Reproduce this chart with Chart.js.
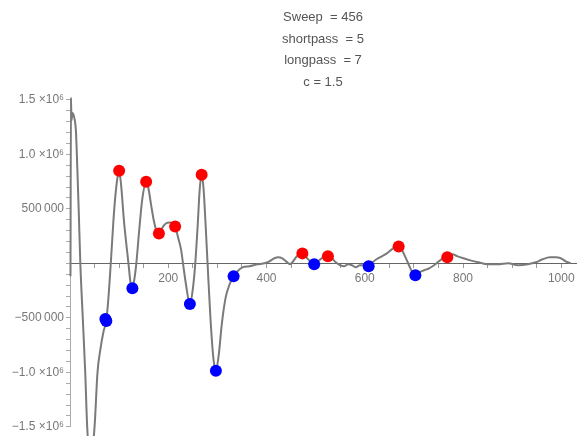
<!DOCTYPE html>
<html lang="en">
  <head>
    <meta charset="UTF-8" />
    <title>Sweep plot</title>
    <script src="https://cdn.jsdelivr.net/npm/chart.js"></script>
    <style>
      body {
        margin: 0;
        background: white;
      }
      #wrap {
        width: 582px;
        height: 436px;
      }
    </style>
  </head>
  <body>
    <div id="wrap"><canvas id="sweepChart"></canvas></div>

    <script>
      // gray trace
      const lineX = [1, 2, 3, 5, 9, 12, 15, 18, 21, 26, 31, 35, 42, 50, 56, 62, 68, 74, 78, 83, 90, 96, 100, 104, 110, 119, 123, 127, 131, 135, 141, 147, 155, 159, 165, 171, 177, 181, 187, 195, 203, 214, 220, 226, 230, 236, 244, 250, 255, 260, 264, 268, 272, 276, 280, 286, 292, 297, 303, 309, 317, 325, 333, 341, 351, 365, 382, 396, 406, 416, 424, 432, 440, 448, 454, 462, 473, 481, 489, 497, 505, 515, 525, 533, 541, 550, 558, 566, 574, 582, 590, 598, 608, 616, 624, 635, 645, 655, 663, 669, 675, 683, 692, 698, 703, 711, 721, 731, 741, 751, 759, 768, 778, 789, 801, 815, 831, 851, 871, 892, 912, 932, 948, 962, 977, 989, 999, 1009, 1019];
      const lineY = [-119000, 1520000, 1310000, 1380000, 1330000, 1220000, 860000, 450000, 0, -500000, -1000000, -1500000, -1850000, -1500000, -1000000, -785000, -630000, -520000, -330000, 0, 493000, 767000, 849000, 720000, 380000, 0, -173000, -228000, -146000, 0, 310000, 584000, 749000, 703000, 539000, 383000, 283000, 265000, 320000, 365000, 374000, 338000, 237000, 128000, 0, -192000, -374000, -237000, 0, 356000, 676000, 813000, 676000, 356000, 0, -511000, -877000, -986000, -831000, -557000, -310000, -192000, -119000, -73000, -37000, -27000, -9000, 0, 18000, 46000, 55000, 46000, 18000, -9000, 18000, 64000, 91000, 55000, 18000, -9000, 18000, 55000, 64000, 46000, 9000, -18000, -27000, -9000, -18000, -37000, -18000, -18000, -27000, 9000, 37000, 64000, 91000, 128000, 155000, 155000, 128000, 55000, -37000, -91000, -110000, -82000, -64000, -46000, -18000, 18000, 46000, 55000, 82000, 64000, 46000, 27000, 9000, -9000, -9000, 0, -18000, -9000, 9000, 37000, 55000, 55000, 46000, 18000, 0];

      // red maxima
      const maxX = [100, 155, 181, 214, 268, 473, 525, 669, 768];
      const maxY = [849000, 749000, 274000, 338000, 813000, 91000, 64000, 155000, 55000];

      // blue minima
      const minX = [72, 74, 127, 244, 297, 333, 497, 608, 703];
      const minY = [-511000, -530000, -228000, -374000, -986000, -119000, -9000, -27000, -110000];

      // tick labels
      const xTickLabels = [200, 400, 600, 800, 1000];
      const yTickValues = [1500000, 1000000, 500000, -500000, -1000000, -1500000];
      const yTickLabels = ["1.5 \u00d710\u2076", "1.0 \u00d710\u2076", "500\u2009000", "\u2212500\u2009000", "\u22121.0 \u00d710\u2076", "\u22121.5 \u00d710\u2076"];

      const titleLines = ["Sweep  = 456", "shortpass  = 5", "longpass  = 7", "c = 1.5"];

      function pairs(xs, ys) {
        return xs.map((x, i) => ({ x: x, y: ys[i] }));
      }

      function yLabel(v) {
        const r = Math.round(Number(v) / 1000) * 1000;
        const i = yTickValues.indexOf(r);
        return i >= 0 ? yTickLabels[i] : "";
      }

      function xLabel(v) {
        const r = Math.round(Number(v));
        return xTickLabels.includes(r) ? String(r) : "";
      }

      const fontFam = "'Liberation Sans', Arial, sans-serif";

      let ctx = document.getElementById("sweepChart").getContext("2d");
      let sweepChart = new Chart(ctx, {
        type: "scatter",
        data: {
          datasets: [
            {
              label: "max",
              data: pairs(maxX, maxY),
              backgroundColor: "#ff0000",
              borderWidth: 0,
              pointRadius: 6,
            },
            {
              label: "min",
              data: pairs(minX, minY),
              backgroundColor: "#0000ff",
              borderWidth: 0,
              pointRadius: 6,
            },
            {
              label: "trace",
              data: pairs(lineX, lineY),
              showLine: true,
              borderColor: "#7a7a7a",
              borderWidth: 2,
              pointRadius: 0,
              cubicInterpolationMode: "monotone",
              clip: false,
            },
          ],
        },
        options: {
          responsive: true,
          maintainAspectRatio: false,
          animation: false,
          layout: { padding: { left: 0, right: 4, top: 0, bottom: 6 } },
          plugins: {
            legend: { display: false },
            tooltip: { enabled: false },
            title: {
              display: true,
              fullSize: false,
              text: titleLines,
              color: "#555",
              font: { family: fontFam, size: 13, weight: "normal", lineHeight: 1.65 },
              padding: { top: 7, bottom: 7 },
            },
          },
          scales: {
            x: {
              type: "linear",
              min: 0,
              max: 1030,
              position: { y: 0 },
              border: { color: "#666", width: 1 },
              grid: { drawOnChartArea: false, tickLength: 4, color: "#999" },
              ticks: {
                stepSize: 50,
                includeBounds: false,
                autoSkip: false,
                maxRotation: 0,
                padding: 4,
                color: "#777",
                font: { family: fontFam, size: 12 },
                callback: (v) => xLabel(v),
              },
            },
            y: {
              type: "linear",
              min: -1500000,
              max: 1500000,
              position: "left",
              afterFit: (s) => {
                s.width = 70;
              },
              border: { color: "#aaa", width: 1 },
              grid: { drawOnChartArea: false, tickLength: 4, color: "#aaa" },
              ticks: {
                stepSize: 100000,
                autoSkip: false,
                padding: 2,
                color: "#777",
                font: { family: fontFam, size: 12 },
                callback: (v) => yLabel(v),
              },
            },
          },
        },
      });
    </script>
  </body>
</html>
